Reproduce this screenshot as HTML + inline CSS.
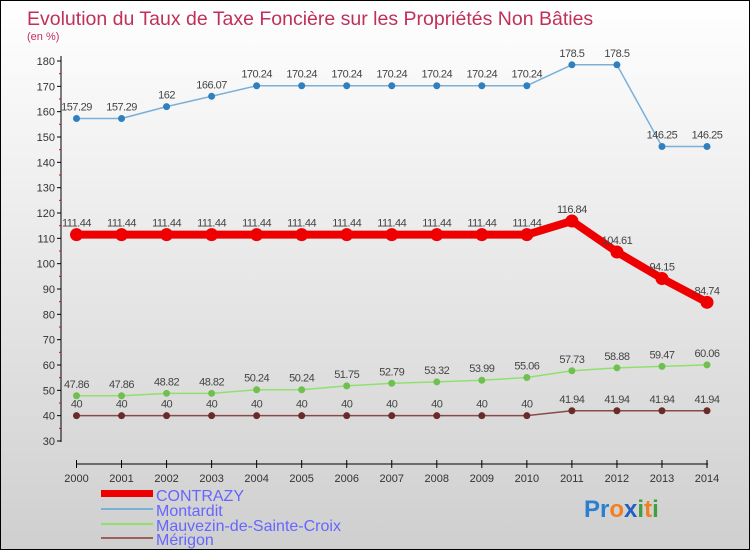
<!DOCTYPE html>
<html><head><meta charset="utf-8"><style>
body{margin:0}
#c{width:750px;height:550px;position:relative;box-sizing:border-box;border:1px solid #000;background:linear-gradient(#fff,#ececec 40%,#cfcfcf);font-family:"Liberation Sans",sans-serif;overflow:hidden}
</style></head><body>
<div id="c">
<svg id="s" width="750" height="550" style="position:absolute;left:0;top:0">
<text x="26" y="24" font-size="19.5" fill="#c0305a">Evolution du Taux de Taxe Foncière sur les Propriétés Non Bâties</text>
<text x="26" y="39" font-size="11" fill="#c0305a">(en %)</text>
<g id="axes"></g><g id="series"></g>
<g>
<rect x="100" y="489" width="52" height="7" fill="#e00"/>
<text x="155" y="500" font-size="16" fill="#66f">CONTRAZY</text>
<rect x="100" y="507" width="52" height="2" fill="#7ab0d8"/>
<text x="155" y="515" font-size="16" fill="#66f">Montardit</text>
<rect x="100" y="522" width="52" height="2" fill="#90e070"/>
<text x="155" y="530" font-size="16" fill="#66f">Mauvezin-de-Sainte-Croix</text>
<rect x="100" y="536" width="52" height="2" fill="#9a6060"/>
<text x="155" y="544" font-size="16" fill="#66f">Mérigon</text>
</g>
<text x="583" y="516" font-size="24" font-weight="bold"><tspan fill="#2a80d0">Pr</tspan><tspan fill="#f08020">o</tspan><tspan fill="#2060c0">x</tspan><tspan fill="#40a040">i</tspan><tspan fill="#f08020">t</tspan><tspan fill="#40a040">i</tspan></text>
</svg>
<script>
const years=[2000,2001,2002,2003,2004,2005,2006,2007,2008,2009,2010,2011,2012,2013,2014];
const yTicks=[30,40,50,60,70,80,90,100,110,120,130,140,150,160,170,180];
const contrazy=[111.44,111.44,111.44,111.44,111.44,111.44,111.44,111.44,111.44,111.44,111.44,116.84,104.61,94.15,84.74];
const montardit=[157.29,157.29,162,166.07,170.24,170.24,170.24,170.24,170.24,170.24,170.24,178.5,178.5,146.25,146.25];
const mauvezin=[47.86,47.86,48.82,48.82,50.24,50.24,51.75,52.79,53.32,53.99,55.06,57.73,58.88,59.47,60.06];
const merigon=[40,40,40,40,40,40,40,40,40,40,40,41.94,41.94,41.94,41.94];
const NS="http://www.w3.org/2000/svg";
const X=i=>75.5+i*(706-75.5)/(years.length-1);
const Y=v=>440-(v-30)*(380/150);
function mk(t,a,p){const e=document.createElementNS(NS,t);for(const k in a)e.setAttribute(k,a[k]);p.appendChild(e);return e;}
const ax=document.getElementById('axes'),se=document.getElementById('series');
const ya=mk('line',{x1:60,y1:55,x2:60,y2:441,stroke:'#000'},ax);


yTicks.forEach((v,i)=>{
 mk('line',{x1:56,x2:60,y1:Y(v),y2:Y(v),stroke:'#000'},ax);
 if(i<yTicks.length-1)mk('line',{x1:58,x2:60,y1:Y(v+5),y2:Y(v+5),stroke:'#e00'},ax);
 const t=mk('text',{x:54,y:Y(v)+4,'font-size':11,fill:'#333','text-anchor':'end'},ax);t.textContent=v;
 
 
});
const xa=mk('line',{x1:75,y1:463,x2:707,y2:463,stroke:'#000'},ax);


years.forEach((y,i)=>{
 mk('line',{x1:X(i),x2:X(i),y1:459,y2:467,stroke:'#000'},ax);
 const t=mk('text',{x:X(i),y:481,'font-size':11,fill:'#333','text-anchor':'middle'},ax);t.textContent=y;
 
 
});
function series(data,name,col,w,r,fill){
 const g=mk('g',{},se);
 
 
 mk('polyline',{points:data.map((v,i)=>X(i)+','+Y(v)).join(' '),fill:'none',stroke:col,'stroke-width':w,'stroke-linejoin':'round'},g);
 data.forEach((v,i)=>{
  const c=mk('circle',{cx:X(i),cy:Y(v),r:r,fill:fill},g);
  
  
  const t=mk('text',{x:X(i),y:Y(v)-8,'font-size':11,fill:'#444','text-anchor':'middle','letter-spacing':'-0.5'},g);t.textContent=v;
  
  
 });
}
series(merigon,'merigon','#8a4a4a',1.5,3.5,'#6a2a2a');
series(mauvezin,'mauvezin','#90e070',1.5,3.5,'#70c050');
series(contrazy,'contrazy','#e00',8,6.5,'#e00');
series(montardit,'montardit','#7ab0d8',1.5,3.5,'#3080c0');
</script>
</div>
</body></html>
